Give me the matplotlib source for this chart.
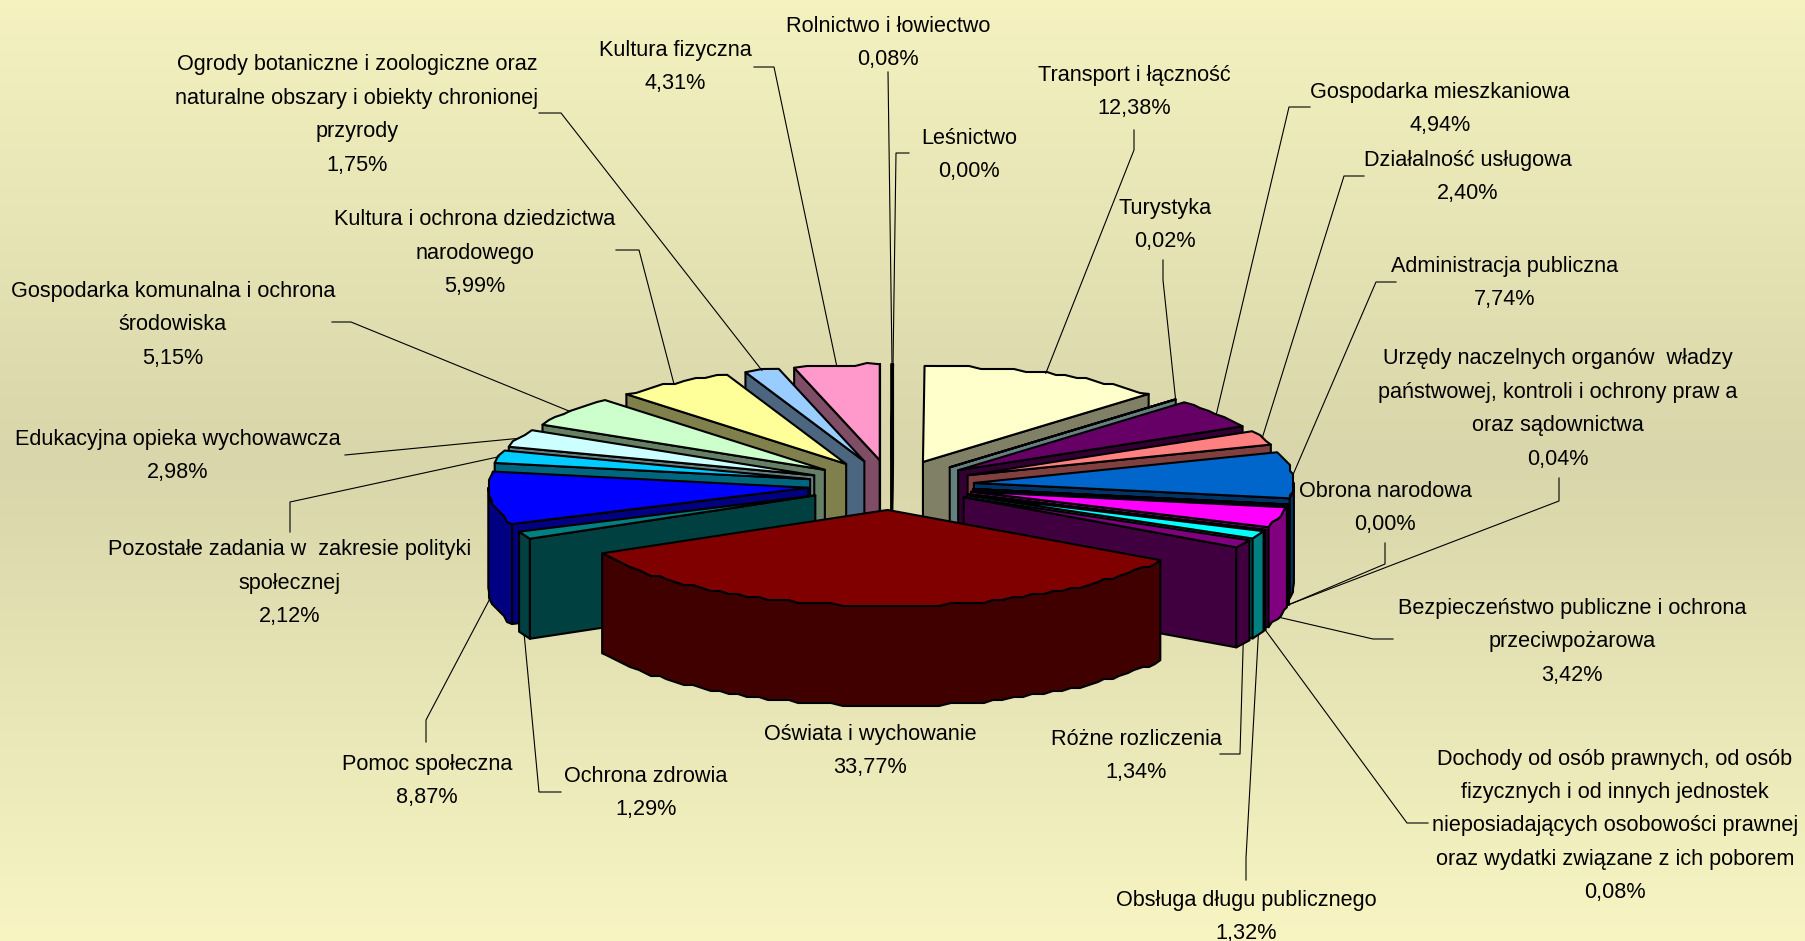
import numpy as np
import matplotlib.pyplot as plt
from matplotlib.patches import Polygon

# slices, clockwise from 12 o'clock
names = ['Rolnictwo i łowiectwo', 'Leśnictwo', 'Transport i łączność', 'Turystyka',
         'Gospodarka mieszkaniowa', 'Działalność usługowa', 'Administracja publiczna',
         'Urzędy naczelnych organów  władzy\npaństwowej, kontroli i ochrony praw a\noraz sądownictwa',
         'Obrona narodowa', 'Bezpieczeństwo publiczne i ochrona\nprzeciwpożarowa',
         'Dochody od osób prawnych, od osób\nfizycznych i od innych jednostek\nnieposiadających osobowości prawnej\noraz wydatki związane z ich poborem',
         'Obsługa długu publicznego', 'Różne rozliczenia', 'Oświata i wychowanie', 'Ochrona zdrowia',
         'Pomoc społeczna', 'Pozostałe zadania w  zakresie polityki\nspołecznej', 'Edukacyjna opieka wychowawcza',
         'Gospodarka komunalna i ochrona\nśrodowiska', 'Kultura i ochrona dziedzictwa\nnarodowego',
         'Ogrody botaniczne i zoologiczne oraz\nnaturalne obszary i obiekty chronionej\nprzyrody',
         'Kultura fizyczna']
values = [0.08, 0.00, 12.38, 0.02, 4.94, 2.40, 7.74, 0.04, 0.00, 3.42, 0.08, 1.32, 1.34, 33.77, 1.29,
          8.87, 2.12, 2.98, 5.15, 5.99, 1.75, 4.31]
colors = ['#9999FF', '#993366', '#FFFFCC', '#CCFFFF', '#660066', '#FF8080', '#0066CC', '#CCCCFF',
          '#000080', '#FF00FF', '#FFFF00', '#00FFFF', '#800080', '#800000', '#008080', '#0000FF',
          '#00CCFF', '#CCFFFF', '#CCFFCC', '#FFFF99', '#99CCFF', '#FF99CC']

# label layout in reference pixels: text centre, then leader elbows
label_xy = [(888, 40), (969, 152), (1134, 89), (1165, 222), (1440, 106), (1468, 174), (1505, 280),
            (1558, 406), (1385, 505), (1572, 639), (1615, 823), (1246, 914), (1136, 753), (870, 748),
            (646, 790), (427, 778), (290, 580), (178, 453), (173, 322), (475, 250), (357, 112), (675, 64)]
elbows = [[(888, 72)], [(909, 153), (896, 153)], [(1134, 130), (1134, 150)],
          [(1163, 260), (1163, 280)], [(1310, 107), (1289, 107)], [(1364, 176), (1344, 176)],
          [(1396, 282), (1376, 282)], [(1559, 478), (1559, 501)], [(1385, 543), (1385, 564)],
          [(1393, 639), (1373, 639)], [(1428, 823), (1407, 823)], [(1246, 880), (1246, 858)],
          [(1220, 754), (1240, 754)], [], [(561, 792), (539, 792)], [(426, 742), (426, 720)],
          [(290, 532), (290, 502)], [(345, 455)], [(332, 322), (351, 322)], [(616, 250), (639, 250)],
          [(539, 113), (561, 113)], [(754, 67), (774, 67)]]

W, H = 1805, 941
cx, cy = 891, 485
rx, ry = 320, 96
depth = 100
explode = 0.26

# background colour down the page
bg_y = [0, 460, 941]
bg_rgb = [(245, 242, 192), (216, 214, 170), (248, 245, 195)]


def rough(pts):
    # the source chart was upscaled, arcs wobble a bit. corners stay put
    pts = np.asarray(pts, dtype=float)
    pts[1:-1] = np.round(pts[1:-1] / 3.0) * 3.0
    return pts


def darker(c):
    rgb = np.array([int(c[i:i + 2], 16) for i in (1, 3, 5)]) / 255
    return tuple(rgb * 0.5)


fig = plt.figure(figsize=(W / 100, H / 100), dpi=100)
ax = fig.add_axes([0, 0, 1, 1])

yy = np.arange(H)
grad = np.stack([np.interp(yy, bg_y, [c[k] for c in bg_rgb]) for k in range(3)], axis=1)[:, None, :]
ax.imshow(grad / 255, extent=[0, W, H, 0], aspect='auto', zorder=0)
ax.set_xlim(0, W)
ax.set_ylim(H, 0)
ax.axis('off')

plt.rcParams['font.family'] = ['Liberation Sans', 'DejaVu Sans']

edges = np.cumsum([0] + values) / sum(values) * 2 * np.pi
slices = []
for i, v in enumerate(values):
    a1, a2 = edges[i], edges[i + 1]
    mid = (a1 + a2) / 2
    ox = cx + explode * rx * np.sin(mid)
    oy = cy - explode * ry * np.cos(mid)
    slices.append((np.cos(mid), i, a1, a2, mid, ox, oy))

# back slices first
z = 1
for _, i, a1, a2, mid, ox, oy in sorted(slices, key=lambda s: -s[0]):
    def pt(a):
        return np.array([ox + rx * np.sin(a), oy - ry * np.cos(a)])
    wall = darker(colors[i])
    apex = np.array([ox, oy])
    down = np.array([0, depth])
    kw = dict(edgecolor='black', linewidth=1.5, joinstyle='round')
    # radial walls that face the viewer
    for a, show in ((a1, np.sin(a1) < 0), (a2, np.sin(a2) > 0)):
        if show:
            ax.add_patch(Polygon([apex, pt(a), pt(a) + down, apex + down], facecolor=wall, zorder=z, **kw))
            z += 1
    # outer wall, front part only
    lo, hi = max(a1, np.pi / 2), min(a2, 3 * np.pi / 2)
    if hi > lo:
        arc = rough([pt(a) for a in np.linspace(lo, hi, max(int((hi - lo) * 30), 2))])
        ax.add_patch(Polygon(np.vstack([arc, arc[::-1] + down]), facecolor=wall, zorder=z, **kw))
        z += 1
    n = max(int((a2 - a1) * 30), 2)
    top = rough([pt(a) for a in np.linspace(a1, a2, n)])
    ax.add_patch(Polygon(np.vstack([[apex], top]), facecolor=colors[i], zorder=z, **kw))
    z += 1

for _, i, a1, a2, mid, ox, oy in slices:
    end = np.array([ox + rx * np.sin(mid), oy - ry * np.cos(mid)])
    if np.cos(mid) < 0:
        end = end + [0, depth]
    if elbows[i]:
        pts = np.array(elbows[i] + [tuple(end)])
        ax.plot(pts[:, 0], pts[:, 1], color='black', linewidth=0.8, zorder=z)
    pct = f'{values[i]:.2f}'.replace('.', ',') + '%'
    # baseline nudge, the block centre sits a little high otherwise
    ax.text(label_xy[i][0], label_xy[i][1] + 3, names[i] + '\n' + pct, ha='center', va='center', ma='center',
            fontsize=15.6, linespacing=1.78, color='black', zorder=z + 1)

fig.savefig('out.png', dpi=100)
